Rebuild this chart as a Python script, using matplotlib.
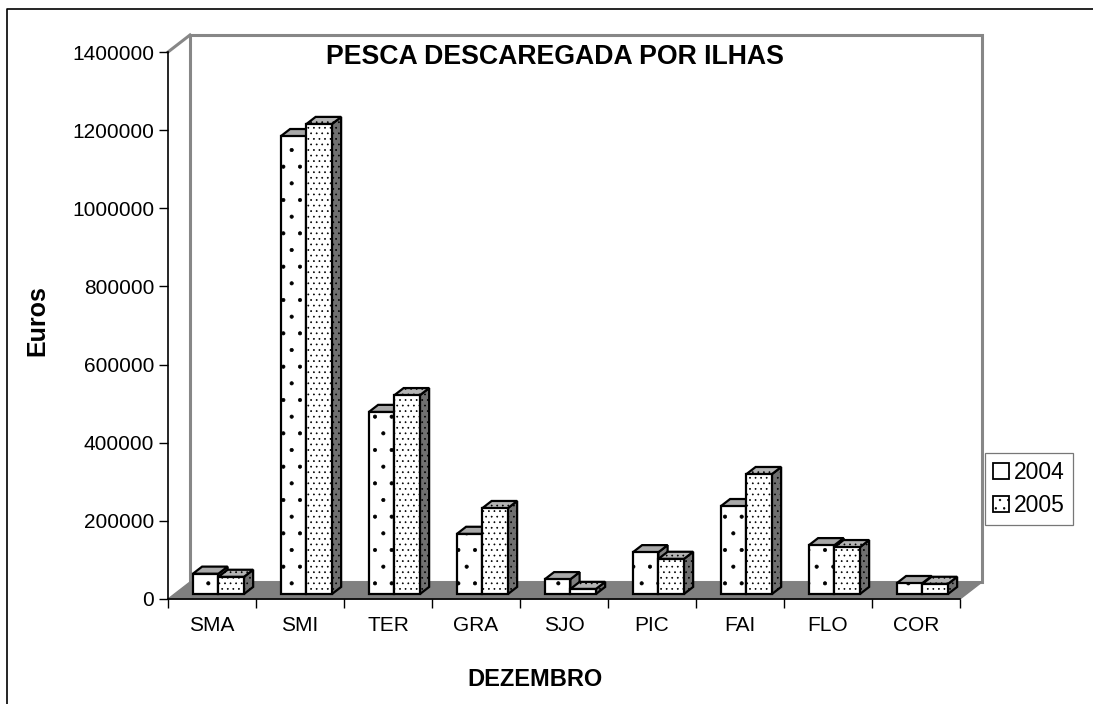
import matplotlib
matplotlib.use("Agg")
import matplotlib.pyplot as plt
from matplotlib.patches import Polygon, Patch
from matplotlib.lines import Line2D

plt.rcParams['font.family'] = ['Liberation Sans', 'DejaVu Sans']
plt.rcParams['hatch.linewidth'] = 0.5

# ---- data ----
categories = ["SMA", "SMI", "TER", "GRA", "SJO", "PIC", "FAI", "FLO", "COR"]
series_names = ["2004", "2005"]
values_2004 = [52000, 1172000, 466000, 154000, 38000, 107000, 225000, 125000, 28000]
values_2005 = [44000, 1203000, 509000, 220000, 13000, 90000, 307000, 120000, 26000]
y_ticks = [0, 200000, 400000, 600000, 800000, 1000000, 1200000, 1400000]
title = "PESCA DESCAREGADA POR ILHAS"
x_label = "DEZEMBRO"
y_label = "Euros"

# ---- figure / geometry ----
W, H = 1093, 704
fig = plt.figure(figsize=(W / 100, H / 100), dpi=100)
ax_left, ax_right, ax_top, ax_bot = 168, 960, 52, 599
ax = fig.add_axes([ax_left / W, 1 - ax_bot / H, (ax_right - ax_left) / W, (ax_bot - ax_top) / H])
n = len(categories)
ymax = y_ticks[-1]
ax.set_xlim(0, n)
ax.set_ylim(0, ymax)

# depth offset in data units (22 px right, 17 px up)
DX = 22 / ((ax_right - ax_left) / n)
DY = 17 / ((ax_bot - ax_top) / ymax)
GRAY = "#878787"

# back wall
wall = Polygon([(DX, DY), (DX, ymax + DY), (n + DX, ymax + DY), (n + DX, DY)],
               closed=True, facecolor="white", edgecolor=GRAY, lw=2.2,
               clip_on=False, zorder=0.3)
ax.add_patch(wall)
# floor
floor = Polygon([(0, 0), (n, 0), (n + DX, DY), (DX, DY)], closed=True,
                facecolor="#808080", edgecolor="#808080", lw=1.0,
                clip_on=False, zorder=0.5)
ax.add_patch(floor)
# side-wall top edge
ax.add_line(Line2D([0, DX], [ymax, ymax + DY], color=GRAY, lw=2.2,
                   clip_on=False, zorder=0.4))

# bars
bw = 0.29
f0, f1 = 0.29, 0.71
styles = [
    dict(front=("white", "."), top=("#a8a8a8", None), side=("#808080", None)),
    dict(front=("white", "..."), top=("#b4b4b4", "..."), side=("#707070", "...")),
]
series = [values_2004, values_2005]
z = 2
for i in range(n):
    for j, vals in enumerate(series):
        v = vals[i]
        x0 = i + 0.5 - bw + j * bw + f0 * DX
        z0 = f0 * DY
        ddx, ddy = (f1 - f0) * DX, (f1 - f0) * DY
        st = styles[j]
        side = Polygon([(x0 + bw, z0), (x0 + bw + ddx, z0 + ddy),
                        (x0 + bw + ddx, z0 + v + ddy), (x0 + bw, z0 + v)],
                       closed=True, facecolor=st["side"][0], hatch=st["side"][1],
                       edgecolor="black", lw=1.6, joinstyle="miter", zorder=z)
        top = Polygon([(x0, z0 + v), (x0 + bw, z0 + v), (x0 + bw + ddx, z0 + v + ddy),
                       (x0 + ddx, z0 + v + ddy)],
                      closed=True, facecolor=st["top"][0], hatch=st["top"][1],
                      edgecolor="black", lw=1.6, joinstyle="miter", zorder=z + 0.1)
        front = Polygon([(x0, z0), (x0 + bw, z0), (x0 + bw, z0 + v), (x0, z0 + v)],
                        closed=True, facecolor=st["front"][0], hatch=st["front"][1],
                        edgecolor="black", lw=1.6, joinstyle="miter", zorder=z + 0.2)
        for p in (side, top, front):
            ax.add_patch(p)
        z += 1

# axes styling
for s in ("top", "right"):
    ax.spines[s].set_visible(False)
for s in ("left", "bottom"):
    ax.spines[s].set_color("black")
    ax.spines[s].set_linewidth(1.2)
    ax.spines[s].set_zorder(1)
ax.patch.set_visible(False)

ax.set_yticks(y_ticks)
ax.set_yticklabels([str(t) for t in y_ticks], fontsize=15)
ax.tick_params(axis="y", length=6.5, width=1.0, pad=3.5, colors="black")
ax.set_xticks(range(n + 1))
ax.set_xticklabels([])
ax.set_xticks([i + 0.5 for i in range(n)], minor=True)
ax.set_xticklabels(categories, minor=True, fontsize=15)
ax.tick_params(axis="x", which="major", length=6.5, width=1.0)
ax.tick_params(axis="x", which="minor", length=0, pad=12)

# texts
fig.text(555 / W, 1 - 57 / H, title, ha="center", va="center",
         fontsize=19.2, fontweight="bold")
fig.text(535 / W, 1 - 679 / H, x_label, ha="center", va="center",
         fontsize=17, fontweight="bold")
fig.text(37.5 / W, 1 - 321 / H, y_label, ha="center", va="center",
         rotation=90, fontsize=18, fontweight="bold")

# legend
handles = [Patch(facecolor="white", edgecolor="black", lw=1.3, label=series_names[0]),
           Patch(facecolor="white", edgecolor="black", lw=1.3, hatch="..", label=series_names[1])]
leg = fig.legend(handles=handles, loc="upper left",
                 bbox_to_anchor=(985 / W, 1 - 453 / H), fontsize=16.5,
                 frameon=True, fancybox=False, shadow=False,
                 handlelength=0.7, handleheight=0.7, handletextpad=0.22,
                 borderpad=0.35, labelspacing=0.45, borderaxespad=0)
leg.get_frame().set_edgecolor("#555555")
leg.get_frame().set_linewidth(0.9)

# outer frame (left and top edges visible)
fig.add_artist(Line2D([7 / W, 7 / W, 1.0], [0.0, 1 - 9 / H, 1 - 9 / H],
                      color="black", lw=1.2, transform=fig.transFigure))

fig.savefig("out.png", dpi=100, facecolor="white")
